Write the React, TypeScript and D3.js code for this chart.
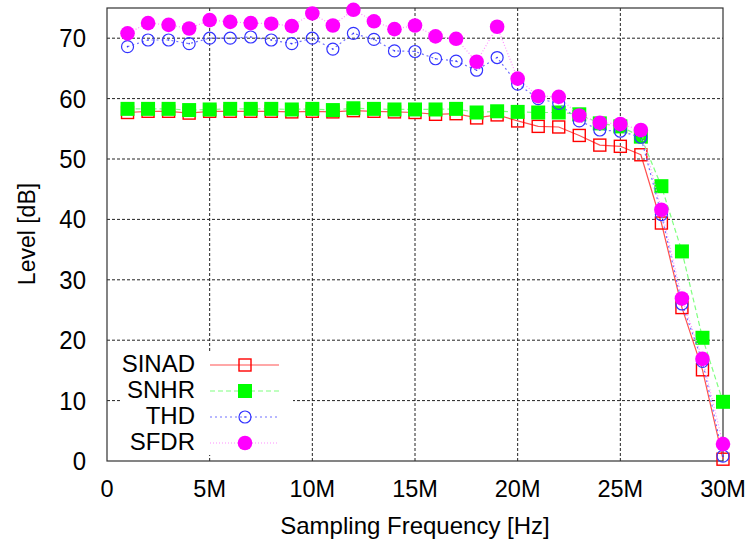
import React, { useEffect, useRef } from "react";
import * as d3 from "d3";

// sampling frequency in MHz
const freqs = [
  1, 2, 3, 4, 5, 6, 7, 8, 9, 10, 11, 12, 13, 14, 15, 16, 17, 18, 19, 20, 21, 22, 23, 24, 25, 26, 27, 28, 29, 30,
];
const sinad = [
  57.7, 57.9, 57.9, 57.6, 57.9, 57.9, 57.9, 57.9, 57.8, 57.9, 57.8, 58.0, 57.9, 57.8, 57.7, 57.4, 57.5, 56.8, 57.3,
  56.3, 55.4, 55.3, 53.9, 52.3, 52.1, 50.7, 39.4, 25.4, 15.1, 0.3,
];
const snhr = [
  58.3, 58.3, 58.3, 58.1, 58.2, 58.3, 58.3, 58.3, 58.2, 58.3, 58.1, 58.4, 58.3, 58.2, 58.2, 58.2, 58.3, 57.7, 57.9,
  57.8, 57.7, 57.7, 57.4, 55.9, 55.4, 53.7, 45.5, 34.7, 20.4, 9.8,
];
const thd = [
  68.6, 69.7, 69.7, 69.1, 70.0, 70.0, 70.2, 69.7, 69.1, 70.0, 68.2, 70.8, 69.8, 67.9, 67.8, 66.6, 66.2, 64.7, 66.8,
  62.4, 60.0, 59.2, 56.3, 54.8, 54.6, 53.6, 40.8, 26.0, 16.5, 0.8,
];
const sfdr = [
  70.8, 72.5, 72.2, 71.6, 73.0, 72.7, 72.5, 72.4, 72.0, 74.1, 72.1, 74.7, 72.8, 71.5, 72.1, 70.3, 69.9, 66.1, 71.9,
  63.3, 60.4, 60.3, 57.2, 56.0, 55.8, 54.8, 41.6, 26.9, 16.9, 2.8,
];
const xTicks = [0, 5, 10, 15, 20, 25, 30];
const xTickLabels = ["0", "5M", "10M", "15M", "20M", "25M", "30M"];
const yTicks = [0, 10, 20, 30, 40, 50, 60, 70];
const seriesNames = ["SINAD", "SNHR", "THD", "SFDR"];

const W = 750;
const H = 542;
const plot = { left: 107, right: 723, top: 8, bottom: 461 };
const font = "'Liberation Sans', Arial, sans-serif";

type Style = { color: string; line: string; dash: string; marker: string };
const styles: Style[] = [
  { color: "#ff0000", line: "#ff5050", dash: "none", marker: "openSquare" },
  { color: "#00ff00", line: "#80ff80", dash: "5,3", marker: "square" },
  { color: "#3333ff", line: "#7070ff", dash: "2,3", marker: "openCircle" },
  { color: "#ff00ff", line: "#ff90ff", dash: "1,2", marker: "circle" },
];

function drawMarker(g: d3.Selection<SVGGElement, unknown, null, undefined>, kind: string, color: string, x: number, y: number) {
  if (kind === "openSquare") {
    g.append("rect").attr("x", x - 6).attr("y", y - 6).attr("width", 12).attr("height", 12)
      .attr("fill", "none").attr("stroke", color).attr("stroke-width", 1.4);
  } else if (kind === "square") {
    g.append("rect").attr("x", x - 7).attr("y", y - 7).attr("width", 14).attr("height", 14).attr("fill", color);
  } else if (kind === "openCircle") {
    g.append("circle").attr("cx", x).attr("cy", y).attr("r", 6)
      .attr("fill", "none").attr("stroke", color).attr("stroke-width", 1.2);
    g.append("circle").attr("cx", x).attr("cy", y).attr("r", 0.8).attr("fill", color);
  } else {
    g.append("circle").attr("cx", x).attr("cy", y).attr("r", 7.3).attr("fill", color);
  }
}

export default function App() {
  const ref = useRef<SVGSVGElement>(null);

  useEffect(() => {
    const svg = d3.select(ref.current);
    svg.selectAll("*").remove();

    const x = d3.scaleLinear().domain([0, 30]).range([plot.left, plot.right]);
    const y = d3.scaleLinear().domain([0, 75]).range([plot.bottom, plot.top]);

    // grid
    const grid = svg.append("g");
    xTicks.slice(1, -1).forEach((t) => {
      grid.append("line").attr("x1", x(t)).attr("x2", x(t)).attr("y1", plot.top).attr("y2", plot.bottom)
        .attr("stroke", "#222").attr("stroke-dasharray", "3,2").attr("stroke-width", 1);
    });
    yTicks.slice(1).forEach((t) => {
      grid.append("line").attr("x1", plot.left).attr("x2", plot.right).attr("y1", y(t)).attr("y2", y(t))
        .attr("stroke", "#222").attr("stroke-dasharray", "3,2").attr("stroke-width", 1);
    });

    // legend background (covers grid)
    svg.append("rect").attr("x", 121).attr("y", 352).attr("width", 172).attr("height", 103).attr("fill", "#fff");

    // border
    svg.append("rect").attr("x", plot.left).attr("y", plot.top)
      .attr("width", plot.right - plot.left).attr("height", plot.bottom - plot.top)
      .attr("fill", "none").attr("stroke", "#333").attr("stroke-width", 1.2);

    // tick labels
    svg.append("g").selectAll("text").data(xTicks).join("text")
      .attr("x", (d) => x(d)).attr("y", 497).attr("text-anchor", "middle")
      .attr("font-family", font).attr("font-size", 23.5).attr("fill", "#000")
      .text((_, i) => xTickLabels[i]);
    svg.append("g").selectAll("text").data(yTicks).join("text")
      .attr("transform", (d) => `translate(86,${y(d) + 9}) scale(1,1.1)`).attr("text-anchor", "end")
      .attr("font-family", font).attr("font-size", 24).attr("fill", "#000")
      .text((d) => String(d));

    // axis titles
    svg.append("text").attr("x", 415).attr("y", 534).attr("text-anchor", "middle")
      .attr("font-family", font).attr("font-size", 24).text("Sampling Frequency [Hz]");
    svg.append("text").attr("transform", "translate(35,234) rotate(-90)").attr("text-anchor", "middle")
      .attr("font-family", font).attr("font-size", 23).text("Level [dB]");

    const allSeries = [sinad, snhr, thd, sfdr];
    const line = d3.line<number>().x((_, i) => x(freqs[i])).y((d) => y(d));

    allSeries.forEach((vals, k) => {
      const s = styles[k];
      const g = svg.append("g");
      g.append("path").attr("d", line(vals)).attr("fill", "none").attr("stroke", s.line)
        .attr("stroke-width", 1.2).attr("stroke-dasharray", s.dash);
      vals.forEach((v, i) => drawMarker(g, s.marker, s.color, x(freqs[i]), y(v)));
    });

    // legend
    const lg = svg.append("g");
    seriesNames.forEach((name, k) => {
      const s = styles[k];
      const ly = 365 + k * 26;
      lg.append("text").attr("x", 195).attr("y", ly + 7).attr("text-anchor", "end")
        .attr("font-family", font).attr("font-size", 24).attr("fill", "#000").text(name);
      lg.append("line").attr("x1", 210).attr("x2", 279).attr("y1", ly).attr("y2", ly)
        .attr("stroke", s.line).attr("stroke-width", 1.2).attr("stroke-dasharray", s.dash);
      drawMarker(lg, s.marker, s.color, 245, ly);
    });
  }, []);

  return (
    <svg ref={ref} width={W} height={H} style={{ position: "absolute", left: 0, top: 0, background: "#fff" }} />
  );
}
